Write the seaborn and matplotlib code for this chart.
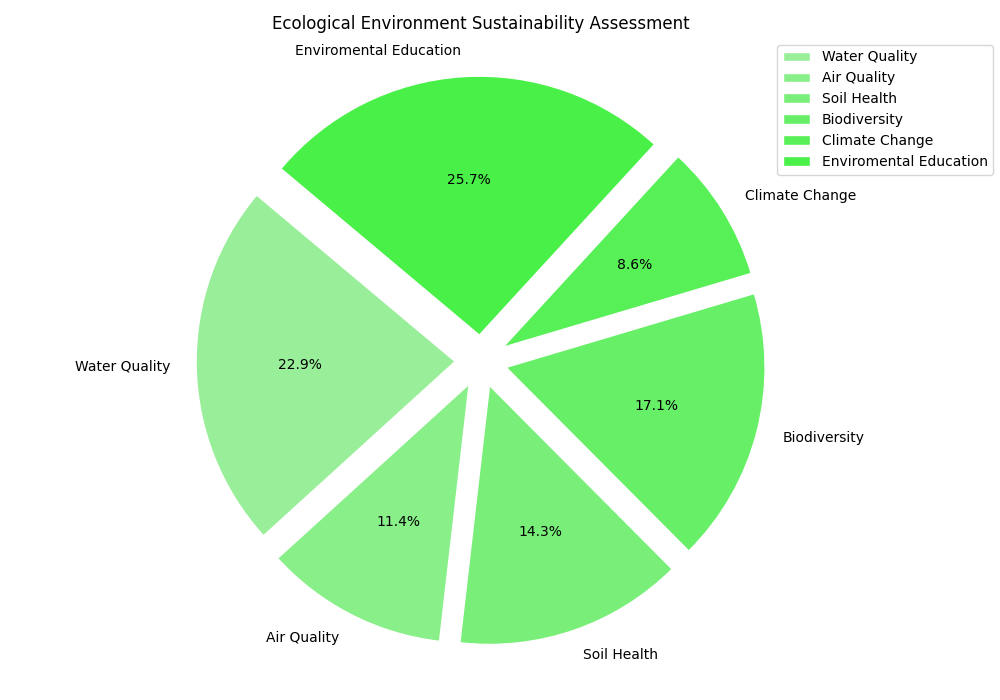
import matplotlib
matplotlib.use("Agg")
import matplotlib.pyplot as plt
import seaborn as sns

categories = ["Water Quality", "Air Quality", "Soil Health", "Biodiversity",
              "Climate Change", "Enviromental Education"]
values = [80, 40, 50, 60, 30, 90]
colors = ["#99EF99", "#89EF89", "#79EF79", "#67F067", "#57F057", "#48F048"]
title = "Ecological Environment Sustainability Assessment"

sns.set_style("white")
plt.rcParams['font.family'] = ['DejaVu Sans']
plt.rcParams['text.color'] = 'black'

fig = plt.figure(figsize=(10, 7), dpi=100)
# pie centre at ~ (481, 361) px, radius ~259 px
r_px, cx, cy = 259.0, 481.0, 361.0
top_px, bot_px = cy - 1.25 * r_px, cy + 1.25 * r_px
w_px = 2 * cx
ax = fig.add_axes([0, (700 - bot_px) / 700, w_px / 1000, (bot_px - top_px) / 700])
explode = [0.1] * len(values)
ax.pie(values, labels=categories, colors=colors, explode=explode,
       autopct="%1.1f%%", startangle=140,
       textprops={"color": "black"})
ax.set_aspect("auto")
ax.set_xlim(-cx / r_px, cx / r_px)
ax.set_ylim(-1.25, 1.25)
ax.set_axis_off()
ax.set_title(title, color="black")
ax.legend(loc="upper right", bbox_to_anchor=(1.0, 0.946),
          bbox_transform=fig.transFigure, labelcolor="black")
fig.savefig("out.png", dpi=100)
